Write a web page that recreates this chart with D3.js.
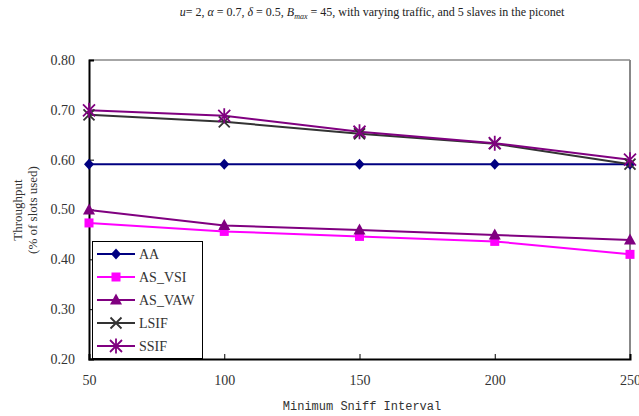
<!DOCTYPE html>
<html><head><meta charset="utf-8">
<script src="https://cdn.jsdelivr.net/npm/d3@7"></script>
<style>body{margin:0;background:#fff}svg{display:block}
.serif{font-family:"Liberation Serif","Times New Roman",Times,serif}
.mono{font-family:"Liberation Mono","Courier New",monospace}
</style>
</head><body>
<svg id="c" width="639" height="416"></svg>
<script>
const xValues = [50, 100, 150, 200, 250];
const seriesNames = ["AA", "AS_VSI", "AS_VAW", "LSIF", "SSIF"];
const AA = [0.591, 0.591, 0.591, 0.591, 0.591];
const AS_VSI = [0.473, 0.456, 0.446, 0.436, 0.410];
const AS_VAW = [0.499, 0.468, 0.459, 0.449, 0.439];
const LSIF = [0.690, 0.676, 0.652, 0.632, 0.591];
const SSIF = [0.699, 0.688, 0.656, 0.633, 0.600];
const yTicks = [0.20, 0.30, 0.40, 0.50, 0.60, 0.70, 0.80];
const xTicks = [50, 100, 150, 200, 250];
const colors = ["#000080", "#ff00ff", "#800080", "#333333", "#800080"];
const symbols = ["diamond", "square", "triangle", "x", "asterisk"];
const allSeries = [AA, AS_VSI, AS_VAW, LSIF, SSIF];

const svg = d3.select("#c");
const L = 89, R = 630, T = 60, B = 359;
const x = d3.scaleLinear().domain([50, 250]).range([L, R]);
const y = d3.scaleLinear().domain([0.2, 0.8]).range([B, T]);

// title
const title = svg.append("text").attr("class", "serif").attr("x", 372).attr("y", 16).attr("text-anchor", "middle")
  .style("font-size", "12px").attr("fill", "#222");
title.append("tspan").attr("font-style", "italic").text("u");
title.append("tspan").text("= 2,  ");
title.append("tspan").attr("font-style", "italic").text("α");
title.append("tspan").text(" = 0.7,  ");
title.append("tspan").attr("font-style", "italic").text("δ");
title.append("tspan").text(" = 0.5, ");
title.append("tspan").attr("font-style", "italic").text("B");
title.append("tspan").attr("font-style", "italic").style("font-size", "8px").attr("dy", 3).text("max");
title.append("tspan").attr("dy", -3).text(" = 45, with varying traffic, and 5 slaves in the piconet");

// frame
svg.append("line").attr("x1", L).attr("x2", R).attr("y1", T).attr("y2", T).attr("stroke", "#888").attr("stroke-width", 1.5);
svg.append("line").attr("x1", R).attr("x2", R).attr("y1", T).attr("y2", B).attr("stroke", "#888").attr("stroke-width", 2);

// axes
const yAxis = d3.axisLeft(y).tickValues(yTicks).tickSize(-5).tickPadding(14).tickFormat(d3.format(".2f"));
const gy = svg.append("g").attr("transform", `translate(${L},0)`).call(yAxis);
const xAxis = d3.axisBottom(x).tickValues(xTicks).tickSize(-5).tickPadding(16).tickFormat(d3.format("d"));
const gx = svg.append("g").attr("transform", `translate(0,${B})`).call(xAxis);
[gx, gy].forEach(g => {
  g.attr("font-family", null).attr("font-size", null);
  g.select(".domain").attr("stroke", "#000").attr("stroke-width", 2);
  g.selectAll(".tick line").attr("stroke", "#000");
  g.selectAll(".tick text").attr("class", "serif").style("font-size", "14px").attr("fill", "#333");
});

// axis titles
const yt = svg.append("text").attr("class", "serif").attr("transform", "translate(22,210) rotate(-90)").attr("text-anchor", "middle")
  .style("font-size", "13px").attr("fill", "#333");
yt.append("tspan").attr("x", 0).attr("dy", 0).text("Throughput");
yt.append("tspan").attr("x", 0).attr("dy", 15).text("(% of slots used)");
svg.append("text").attr("class", "mono").attr("x", 362).attr("y", 410).attr("text-anchor", "middle")
  .style("font-size", "12px").attr("fill", "#333").text("Minimum Sniff Interval");

function drawMarker(g, type, cx, cy, color) {
  if (type === "diamond") {
    g.append("path").attr("d", `M${cx},${cy-5.5}L${cx+5},${cy}L${cx},${cy+5.5}L${cx-5},${cy}Z`).attr("fill", color);
  } else if (type === "square") {
    g.append("rect").attr("x", cx-4.5).attr("y", cy-4.5).attr("width", 9).attr("height", 9).attr("fill", color);
  } else if (type === "triangle") {
    g.append("path").attr("d", `M${cx},${cy-6.5}L${cx+6},${cy+4.5}L${cx-6},${cy+4.5}Z`).attr("fill", color);
  } else if (type === "x") {
    g.append("path").attr("d", `M${cx-5.5},${cy-5.5}L${cx+5.5},${cy+5.5}M${cx-5.5},${cy+5.5}L${cx+5.5},${cy-5.5}`)
      .attr("stroke", color).attr("stroke-width", 1.8);
  } else if (type === "asterisk") {
    g.append("path").attr("d", `M${cx-6},${cy-6}L${cx+6},${cy+6}M${cx-6},${cy+6}L${cx+6},${cy-6}M${cx},${cy-7.5}L${cx},${cy+7.5}`)
      .attr("stroke", color).attr("stroke-width", 1.8);
  }
}

const line = d3.line().x((d, i) => x(xValues[i])).y(d => y(d));
const plot = svg.append("g");
allSeries.forEach((vals, si) => {
  plot.append("path").datum(vals).attr("d", line).attr("fill", "none")
    .attr("stroke", colors[si]).attr("stroke-width", 2);
});
allSeries.forEach((vals, si) => {
  vals.forEach((v, i) => drawMarker(plot, symbols[si], x(xValues[i]), y(v), colors[si]));
});

// legend
const lg = svg.append("g");
lg.append("rect").attr("x", 92.5).attr("y", 241.5).attr("width", 110).attr("height", 117)
  .attr("fill", "#fff").attr("stroke", "#000").attr("stroke-width", 1);
seriesNames.forEach((n, i) => {
  const ly = 254 + i * 23;
  lg.append("line").attr("x1", 97).attr("x2", 135).attr("y1", ly).attr("y2", ly)
    .attr("stroke", colors[i]).attr("stroke-width", 2);
  drawMarker(lg, symbols[i], 116, ly, colors[i]);
  lg.append("text").attr("class", "serif").attr("x", 139).attr("y", ly + 5)
    .style("font-size", "14px").attr("fill", "#333").text(n);
});
</script>
</body></html>
